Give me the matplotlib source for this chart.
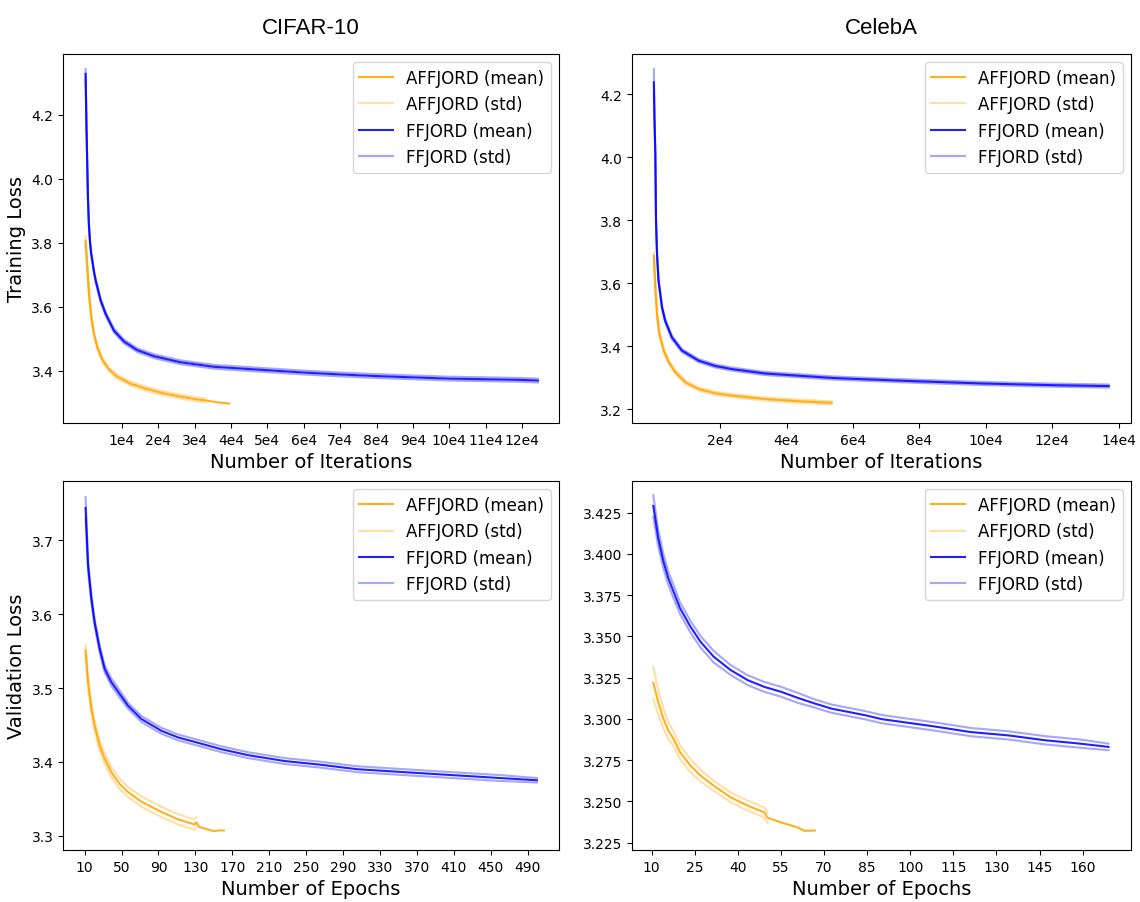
"""
Training / validation loss curves, AFFJORD vs FFJORD, on CIFAR-10 and CelebA.
Output: out.png
"""
import matplotlib
matplotlib.use("Agg")
import matplotlib.pyplot as plt

OUT = "out.png"

# ── CIFAR-10, training loss per iteration ──
cifar_it_ff = [0, 250, 450, 650, 900, 1200, 1500, 1850, 2300, 2780, 4150, 5520, 7800, 10560,
               14200, 18800, 26150, 35300, 49000, 60000, 70000, 80000, 90000, 100000, 110000,
               120000, 124400]
cifar_tr_ff = [4.328, 4.16, 4.05, 3.94, 3.86, 3.805, 3.77, 3.745, 3.71, 3.682, 3.620, 3.578,
               3.526, 3.492, 3.465, 3.446, 3.427, 3.413, 3.403, 3.395, 3.389, 3.384, 3.380,
               3.376, 3.374, 3.372, 3.370]
cifar_tr_ff_std = [0.015, 0.012, 0.010, 0.009, 0.008, 0.007, 0.007, 0.007, 0.006, 0.006, 0.006,
                   0.006, 0.006, 0.006, 0.006, 0.006, 0.006, 0.006, 0.006, 0.006, 0.006, 0.006,
                   0.006, 0.006, 0.006, 0.006, 0.006]

cifar_it_aff = [0, 470, 940, 1570, 2310, 3220, 4600, 6430, 8720, 12400, 17000, 21500, 26000,
                30700, 33000, 34400, 37000, 39500]
cifar_tr_aff = [3.807, 3.724, 3.641, 3.568, 3.516, 3.474, 3.435, 3.405, 3.382, 3.360, 3.343,
                3.330, 3.320, 3.311, 3.308, 3.305, 3.301, 3.298]
cifar_tr_aff_std = [0.014, 0.010, 0.008, 0.007, 0.006, 0.006, 0.006, 0.006, 0.006, 0.006, 0.006,
                    0.006, 0.006, 0.006, 0.006]

# ── CelebA, training loss per iteration ──
celeba_it_ff = [0, 200, 450, 660, 960, 1410, 2470, 3400, 5420, 8430, 13450, 18460, 23480,
                33500, 43550, 53580, 60000, 80000, 100000, 120000, 137000]
celeba_tr_ff = [4.237, 4.12, 4.010, 3.798, 3.692, 3.608, 3.523, 3.481, 3.428, 3.386, 3.354,
                3.337, 3.327, 3.313, 3.306, 3.299, 3.296, 3.288, 3.281, 3.276, 3.273]
celeba_tr_ff_std = [0.042, 0.025, 0.015, 0.010, 0.008, 0.007, 0.006, 0.006, 0.006, 0.005, 0.005,
                    0.005, 0.005, 0.005, 0.005, 0.005, 0.005, 0.005, 0.005, 0.005, 0.005]

celeba_it_aff = [0, 450, 960, 1660, 2980, 4490, 6490, 9500, 13450, 18460, 23480, 33500, 43550,
                 53580]
celeba_tr_aff = [3.687, 3.587, 3.502, 3.439, 3.386, 3.349, 3.317, 3.285, 3.264, 3.250, 3.243,
                 3.232, 3.225, 3.220]
celeba_tr_aff_std = [0.010, 0.009, 0.008, 0.007, 0.007, 0.006, 0.006, 0.006, 0.005, 0.005,
                     0.005, 0.005, 0.005, 0.005]

# ── CIFAR-10, validation loss per epoch ──
cifar_ep_ff = [11, 13.7, 17.3, 20.8, 26.3, 31.7, 38.9, 47.9, 57, 71.5, 93.2, 111.3, 129.2,
               158.2, 187.1, 227, 266, 305, 343, 382, 421, 460, 500]
cifar_va_ff = [3.744, 3.666, 3.621, 3.589, 3.553, 3.526, 3.508, 3.492, 3.476, 3.458, 3.442,
               3.433, 3.427, 3.417, 3.409, 3.401, 3.396, 3.390, 3.387, 3.384, 3.381, 3.378,
               3.375]
cifar_va_ff_std = [0.015, 0.008, 0.006, 0.005, 0.005, 0.005, 0.005, 0.005, 0.004, 0.004, 0.004,
                   0.004, 0.004, 0.004, 0.004, 0.004, 0.004, 0.004, 0.004, 0.004, 0.004, 0.004,
                   0.003]

cifar_ep_aff = [11, 13.7, 17.3, 20.8, 26.3, 31.7, 38.9, 47.9, 57, 71.5, 93.2, 111.3, 129.2,
                131, 134, 141.5, 150, 155, 161]
cifar_va_aff = [3.551, 3.508, 3.472, 3.449, 3.422, 3.404, 3.386, 3.370, 3.359, 3.346, 3.332,
                3.322, 3.315, 3.318, 3.312, 3.309, 3.306, 3.307, 3.307]
cifar_va_aff_std = [0.007, 0.007, 0.007, 0.007, 0.007, 0.007, 0.007, 0.007, 0.007, 0.007, 0.007,
                    0.007, 0.007, 0.007]

# ── CelebA, validation loss per epoch ──
celeba_ep_ff = [10.6, 12.3, 14.1, 15.8, 17.6, 19.9, 23.5, 27, 31.6, 37.5, 43.4, 49.2, 55.1,
                60.9, 66.8, 72.6, 78.5, 84.3, 90.2, 108, 121, 134, 147, 159, 169]
celeba_va_ff = [3.4291, 3.4098, 3.3956, 3.3854, 3.3773, 3.3671, 3.3560, 3.3468, 3.3377, 3.3296,
                3.3235, 3.3194, 3.3164, 3.3127, 3.3093, 3.3062, 3.3042, 3.3022, 3.2998, 3.2955,
                3.2920, 3.2900, 3.2870, 3.2850, 3.2830]
celeba_va_ff_std = [0.0065, 0.005, 0.0045, 0.004, 0.004, 0.0035, 0.0035, 0.0035, 0.0035, 0.003,
                    0.003, 0.003, 0.003, 0.003, 0.0025, 0.0025, 0.0025, 0.0025, 0.0025, 0.0025,
                    0.0025, 0.0025, 0.0025, 0.0025, 0.002]

celeba_ep_aff = [10.6, 12.3, 14.1, 15.8, 17.6, 19.9, 23.5, 27, 31.6, 37.5, 43.4, 49.2, 50.4,
                 55.1, 60.9, 63.2, 66.8]
celeba_va_aff = [3.3219, 3.3103, 3.3001, 3.2930, 3.2880, 3.2798, 3.2717, 3.2656, 3.2595,
                 3.2524, 3.2474, 3.2433, 3.2400, 3.2372, 3.2341, 3.2321, 3.2323]
celeba_va_aff_std = [0.0097, 0.0075, 0.006, 0.005, 0.0045, 0.004, 0.004, 0.0035, 0.003, 0.003,
                     0.003, 0.003, 0.003]

# tick positions / labels
cifar_it_ticks = [10000 * k for k in range(1, 13)]
celeba_it_ticks = [20000 * k for k in range(1, 8)]
cifar_ep_ticks = list(range(10, 491, 40))
celeba_ep_ticks = list(range(10, 161, 15))


def draw(ax, x_aff, m_aff, s_aff, x_ff, m_ff, s_ff):
    n = len(s_aff)
    lo = [m - s for m, s in zip(m_aff, s_aff)]
    hi = [m + s for m, s in zip(m_aff, s_aff)]
    ax.plot(x_aff, m_aff, color="orange", alpha=0.87, lw=1.5, label="AFFJORD (mean)")
    ax.plot(x_aff[:n], hi, color="orange", alpha=0.35, lw=1.5, label="AFFJORD (std)")
    ax.plot(x_aff[:n], lo, color="orange", alpha=0.35, lw=1.5)

    n = len(s_ff)
    lo = [m - s for m, s in zip(m_ff, s_ff)]
    hi = [m + s for m, s in zip(m_ff, s_ff)]
    ax.plot(x_ff, m_ff, color="blue", alpha=0.87, lw=1.5, label="FFJORD (mean)")
    ax.plot(x_ff[:n], hi, color="blue", alpha=0.35, lw=1.5, label="FFJORD (std)")
    ax.plot(x_ff[:n], lo, color="blue", alpha=0.35, lw=1.5)

    ax.legend(loc="upper right", fontsize=12)
    ax.tick_params(labelsize=10)


def main():
    fig = plt.figure(figsize=(11.4, 9.03), dpi=100)

    ax1 = fig.add_axes([0.0553, 0.5305, 0.4351, 0.4086])
    ax2 = fig.add_axes([0.5544, 0.5305, 0.4377, 0.4086])
    ax3 = fig.add_axes([0.0553, 0.0576, 0.4351, 0.4086])
    ax4 = fig.add_axes([0.5544, 0.0576, 0.4377, 0.4086])

    draw(ax1, cifar_it_aff, cifar_tr_aff, cifar_tr_aff_std,
         cifar_it_ff, cifar_tr_ff, cifar_tr_ff_std)
    draw(ax2, celeba_it_aff, celeba_tr_aff, celeba_tr_aff_std,
         celeba_it_ff, celeba_tr_ff, celeba_tr_ff_std)
    draw(ax3, cifar_ep_aff, cifar_va_aff, cifar_va_aff_std,
         cifar_ep_ff, cifar_va_ff, cifar_va_ff_std)
    draw(ax4, celeba_ep_aff, celeba_va_aff, celeba_va_aff_std,
         celeba_ep_ff, celeba_va_ff, celeba_va_ff_std)

    # ── axes ──
    ax1.set_xticks(cifar_it_ticks)
    ax1.set_xticklabels([f"{t // 10000}e4" for t in cifar_it_ticks])
    ax1.set_xlim(-6200, 130200)
    ax1.set_ylim(3.2375, 4.39)
    ax1.set_yticks([3.4, 3.6, 3.8, 4.0, 4.2])

    ax2.set_xticks(celeba_it_ticks)
    ax2.set_xticklabels([f"{t // 10000}e4" for t in celeba_it_ticks])
    ax2.set_xlim(-6570, 143700)
    ax2.set_ylim(3.156, 4.327)
    ax2.set_yticks([3.2, 3.4, 3.6, 3.8, 4.0, 4.2])

    ax3.set_xticks(cifar_ep_ticks)
    ax3.set_xlim(-13.4, 524)
    ax3.set_ylim(3.2805, 3.7805)
    ax3.set_yticks([3.3, 3.4, 3.5, 3.6, 3.7])

    ax4.set_xticks(celeba_ep_ticks)
    ax4.set_xlim(3.2, 176.8)
    ax4.set_ylim(3.2205, 3.4442)
    ax4.set_yticks([3.225, 3.25, 3.275, 3.3, 3.325, 3.35, 3.375, 3.4, 3.425])
    ax4.set_yticklabels([f"{v:.3f}" for v in ax4.get_yticks()])

    ax1.set_xlabel("Number of Iterations", fontsize=14)
    ax2.set_xlabel("Number of Iterations", fontsize=14)
    ax3.set_xlabel("Number of Epochs", fontsize=14)
    ax4.set_xlabel("Number of Epochs", fontsize=14)
    ax1.set_ylabel("Training Loss", fontsize=14)
    ax3.set_ylabel("Validation Loss", fontsize=14)

    ax1.set_title("CIFAR-10", fontsize=16, family="Liberation Sans", pad=15)
    ax2.set_title("CelebA", fontsize=16, family="Liberation Sans", pad=15)

    fig.savefig(OUT, dpi=100)
    plt.close(fig)
    print(f"✓ {OUT} saved")


if __name__ == "__main__":
    main()
